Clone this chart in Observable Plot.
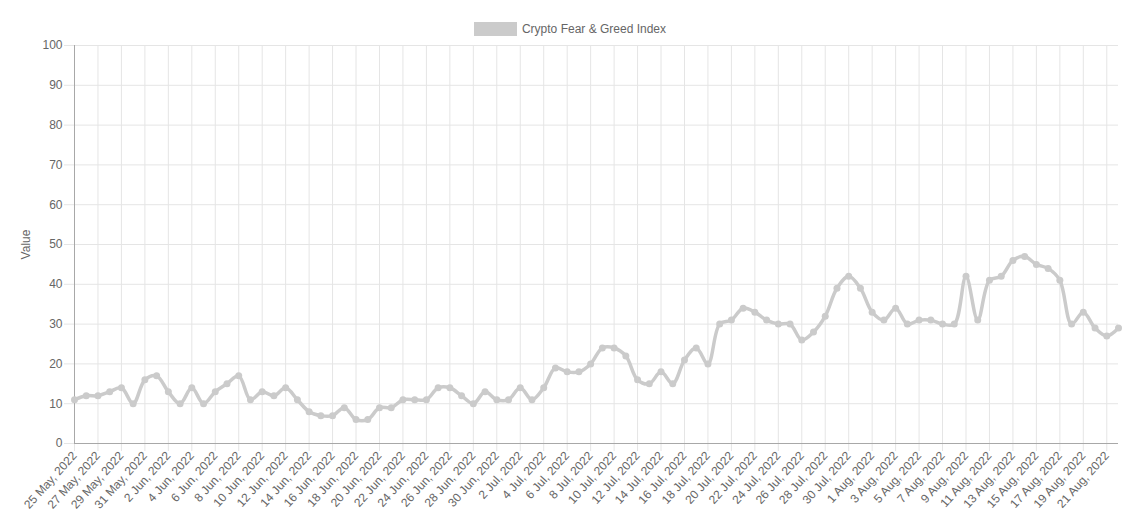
<!DOCTYPE html>
<html>
<head>
<meta charset="utf-8">
<script src="https://cdn.jsdelivr.net/npm/d3@7"></script>
<script src="https://cdn.jsdelivr.net/npm/@observablehq/plot@0.6"></script>
<style>
  body { margin: 0; background: #fff; font-family: "Liberation Sans", Arial, sans-serif; }
  #legend { height: 35px; display: flex; justify-content: center; align-items: flex-start; padding-top: 22px; padding-left: 4px; box-sizing: border-box; color: #666; font-size: 12px; }
  #legend .swatch { width: 43px; height: 14px; background: #cbcbcb; margin-right: 5px; }
  #legend span { line-height: 14px; }
</style>
</head>
<body>
<div id="legend"><div class="swatch"></div><span>Crypto Fear &amp; Greed Index</span></div>
<div id="chart"></div>
<script>
const seriesName = "Crypto Fear & Greed Index";
const startDate = "2022-05-25";
const values = [
  11, 12, 12, 13, 14, 10, 16, 17, 13, 10,
  14, 10, 13, 15, 17, 11, 13, 12, 14, 11,
  8, 7, 7, 9, 6, 6, 9, 9, 11, 11,
  11, 14, 14, 12, 10, 13, 11, 11, 14, 11,
  14, 19, 18, 18, 20, 24, 24, 22, 16, 15,
  18, 15, 21, 24, 20, 30, 31, 34, 33, 31,
  30, 30, 26, 28, 32, 39, 42, 39, 33, 31,
  34, 30, 31, 31, 30, 30, 42, 31, 41, 42,
  46, 47, 45, 44, 41, 30, 33, 29, 27, 29
];
const yTicks = [0, 10, 20, 30, 40, 50, 60, 70, 80, 90, 100];

const start = new Date(startDate + "T00:00:00Z");
const data = values.map((v, i) => ({date: d3.utcDay.offset(start, i), value: v}));
const xTicks = data.filter((d, i) => i % 2 === 0).map(d => d.date);
const fmt = d3.utcFormat("%-d %b, %Y");

const lineColor = "#cbcbcb";
const gridColor = "#e5e5e5";
const axisColor = "#a8a8a8";

const chart = Plot.plot({
  width: 1136,
  height: 492,
  marginTop: 10,
  marginLeft: 74,
  marginRight: 18,
  marginBottom: 84,
  style: {fontFamily: "Liberation Sans, Arial, sans-serif", fontSize: "12px", color: "#666", background: "#fff", overflow: "visible"},
  x: {type: "utc", domain: [data[0].date, data[data.length - 1].date]},
  y: {domain: [0, 100]},
  marks: [
    Plot.gridX(xTicks, {stroke: gridColor, strokeOpacity: 1}),
    Plot.gridY(yTicks, {stroke: gridColor, strokeOpacity: 1}),
    Plot.axisX(xTicks, {
      tickFormat: fmt,
      tickRotate: -48,
      tickSize: 8,
      tickPadding: 2,
      stroke: gridColor,
      fill: "#666",
      fontSize: 12,
      label: null
    }),
    Plot.axisY(yTicks, {
      tickSize: 10,
      tickPadding: 2,
      stroke: gridColor,
      fill: "#666",
      fontSize: 12,
      label: null
    }),
    Plot.ruleX([data[0].date], {stroke: axisColor}),
    Plot.ruleY([0], {stroke: axisColor}),
    Plot.text(["Value"], {frameAnchor: "left", textAnchor: "middle", dx: -48, rotate: -90, fill: "#666", fontSize: 12}),
    Plot.line(data, {x: "date", y: "value", stroke: lineColor, strokeWidth: 3.5, curve: "catmull-rom"}),
    Plot.dot(data, {x: "date", y: "value", fill: lineColor, r: 3.5})
  ]
});

document.getElementById("chart").append(chart);
</script>
</body>
</html>
